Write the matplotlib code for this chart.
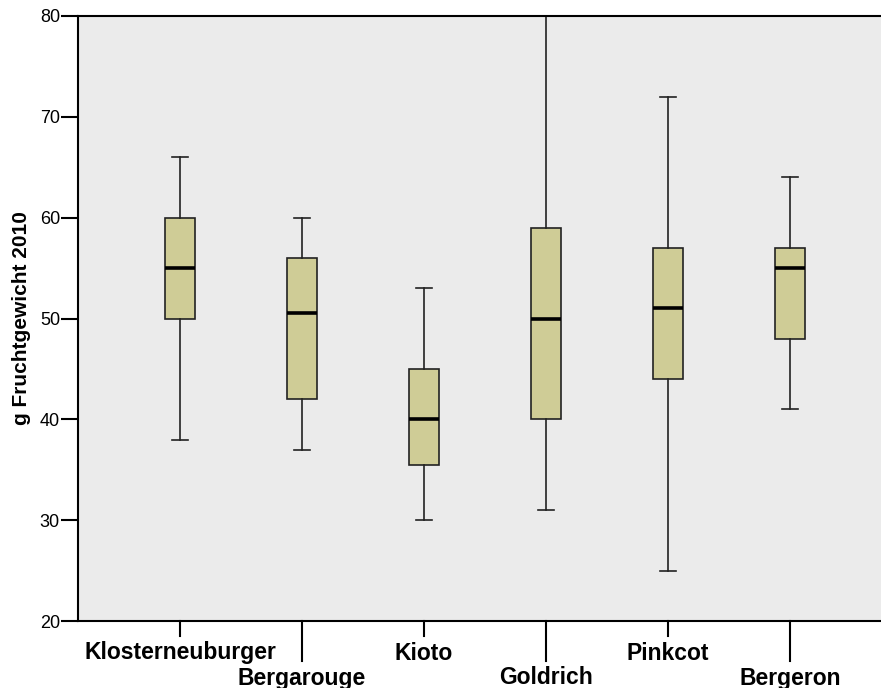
import matplotlib.pyplot as plt

plt.rcParams['font.family'] = ['Liberation Sans', 'DejaVu Sans']

sorten = ['Klosterneuburger', 'Bergarouge', 'Kioto', 'Goldrich', 'Pinkcot', 'Bergeron']
minimum = [38, 37, 30, 31, 25, 41]
q1 = [50, 42, 35.5, 40, 44, 48]
median = [55, 50.5, 40, 50, 51, 55]
q3 = [60, 56, 45, 59, 57, 57]
maximum = [66, 60, 53, 80, 72, 64]

stats = []
for i in range(len(sorten)):
    stats.append({'whislo': minimum[i], 'q1': q1[i], 'med': median[i],
                  'q3': q3[i], 'whishi': maximum[i], 'label': sorten[i]})

fig = plt.figure(figsize=(8.81, 6.88), dpi=100)
ax = fig.add_axes([78 / 881, 1 - 621 / 688, 1 - 78 / 881, (621 - 16) / 688])
ax.set_facecolor('#ebebeb')

pos = list(range(len(sorten)))
ax.bxp(stats, positions=pos, widths=0.254, patch_artist=True, showfliers=False,
       boxprops=dict(facecolor='#cfcc96', edgecolor='#222222', linewidth=1.2),
       medianprops=dict(color='black', linewidth=2.6),
       whiskerprops=dict(color='#222222', linewidth=1.2),
       capprops=dict(color='#222222', linewidth=1.2),
       capwidths=0.123, manage_ticks=False)

ax.set_xlim(-102 / 122, (881 - 180) / 122)
ax.set_ylim(20, 80)
ax.set_yticks([20, 30, 40, 50, 60, 70, 80])
ax.tick_params(axis='y', length=12, width=1.5, labelsize=13, pad=1)

# staggered category labels: every second one sits on a longer tick
ax.set_xticks(pos)
ax.set_xticklabels([])
ax.tick_params(axis='x', length=0)
for i, name in enumerate(sorten):
    tick_len = 15 if i % 2 == 0 else 40
    ax.plot([i, i], [0, -tick_len / 605], transform=ax.get_xaxis_transform(),
            color='black', linewidth=1.5, clip_on=False)
    y_txt = -32 / 605 if i % 2 == 0 else -57 / 605
    ax.text(i, y_txt, name, transform=ax.get_xaxis_transform(), ha='center',
            va='center', fontsize=16.5, fontweight='bold')

for side in ['left', 'bottom', 'top']:
    ax.spines[side].set_linewidth(1.5)
ax.spines['right'].set_visible(False)

ax.set_ylabel('g Fruchtgewicht 2010', fontsize=15, fontweight='bold')
ax.yaxis.set_label_coords(-47 / 803, 0.5)

plt.savefig('out.png', dpi=100)
